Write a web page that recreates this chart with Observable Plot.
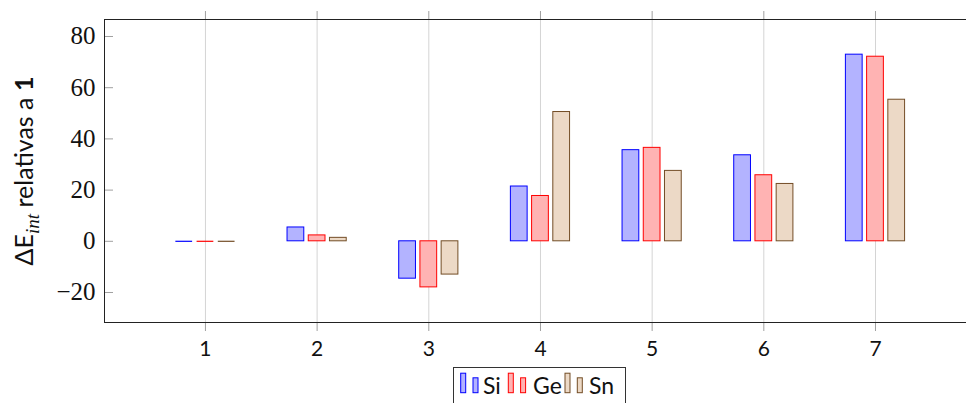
<!DOCTYPE html>
<html><head><meta charset="utf-8">
<script src="https://cdn.jsdelivr.net/npm/d3@7"></script>
<script src="https://cdn.jsdelivr.net/npm/@observablehq/plot@0.6"></script>
<style>
html,body{margin:0;padding:0;background:#fff;}
#wrap{position:relative;width:966px;height:403px;overflow:hidden;background:#fff;}
#wrap svg{display:block;}
#legend{position:absolute;left:453px;top:366.5px;}
#wrap svg text.serif, #wrap svg tspan.serif{font-family:'Liberation Serif', 'DejaVu Serif', serif !important;}
#wrap svg text.sans, #wrap svg tspan.sans{font-family:'Lato' !important;}
</style></head>
<body><div id="wrap"></div>
<script>
const categories = [1, 2, 3, 4, 5, 6, 7];
const seriesNames = ["Si", "Ge", "Sn"];
const siValues = [0, 5.4, -14.6, 21.4, 35.6, 33.6, 72.9];
const geValues = [0, 2.3, -18.0, 17.7, 36.5, 25.8, 72.1];
const snValues = [0, 1.35, -13.0, 50.5, 27.5, 22.4, 55.3];
const yTicks = [-20, 0, 20, 40, 60, 80];
const fills = ["#b3b3ff", "#ffb3b3", "#ecd9c6"];
const strokes = ["#0000ff", "#ff0000", "#734d26"];

const xMin = 0.096, xMax = 7.815, yMin = -31.72, yMax = 86.64;
const off = [-0.19, 0, 0.19], bw = 0.15;
const seriesValues = [siValues, geValues, snValues];
const rows = seriesValues.map((vals, s) => categories.map((c, i) => ({cat: c, value: vals[i], s})));
const fmt = d3.format("d");

const marks = [
  Plot.ruleX(categories, {stroke: "#d4d4d4"}),
  Plot.axisX({ticks: categories, anchor: "top", tickSize: 9, fill: "none", label: null, stroke: "#a0a0a0"}),
  Plot.axisX({ticks: categories, anchor: "bottom", tickSize: 9, fill: "none", label: null, stroke: "#a0a0a0"}),
  Plot.axisY({ticks: yTicks, anchor: "left", tickSize: 9, dx: 9, fill: "none", label: null, stroke: "#a0a0a0"}),
  Plot.text(categories, {x: d => d, frameAnchor: "bottom", lineAnchor: "top", dy: 19,
    text: d => fmt(d), fontFamily: "Lato", fontSize: 21, fill: "#111"}),
  Plot.text(yTicks, {y: d => d, frameAnchor: "left", textAnchor: "end", lineAnchor: "middle", dx: -9,
    text: d => fmt(d), fontFamily: "Liberation Serif", fontSize: 25, fill: "#111"}),
  ...rows.map((r, s) => Plot.rectY(r.filter(d => d.value !== 0), {
    x1: d => d.cat + off[s] - bw / 2, x2: d => d.cat + off[s] + bw / 2,
    y1: 0, y2: "value", fill: fills[s], stroke: strokes[s], strokeWidth: 1
  })),
  ...rows.map((r, s) => Plot.ruleY(r.filter(d => d.value === 0), {
    y: "value", x1: d => d.cat + off[s] - bw / 2, x2: d => d.cat + off[s] + bw / 2,
    stroke: strokes[s], strokeWidth: 1.2
  })),
  Plot.ruleY([yMin, yMax], {stroke: "#222"}),
  Plot.ruleX([xMin], {stroke: "#222"})
];

const chart = Plot.plot({
  width: 966, height: 403,
  marginLeft: 104, marginRight: 0, marginTop: 19, marginBottom: 81,
  x: {domain: [xMin, xMax]},
  y: {domain: [yMin, yMax]},
  style: {background: "white", overflow: "visible"},
  marks
});
document.getElementById("wrap").appendChild(chart);

const svg = d3.select(chart);
svg.selectAll("g[font-family='Liberation Serif'] text").classed("serif", true)
  .attr("font-family", "Liberation Serif");
svg.selectAll("g[font-family='Lato'] text").classed("sans", true);

// y-axis label with subscript
const lab = svg.append("text")
  .attr("transform", "translate(33,171) rotate(-90)")
  .attr("text-anchor", "middle")
  .attr("class", "sans")
  .attr("font-size", 25)
  .style("font-size", "25px")
  .attr("fill", "#111");
lab.append("tspan").text("ΔE");
lab.append("tspan").attr("class", "serif").style("font-style", "italic")
  .attr("font-size", 19).style("font-size", "19px").attr("dy", 6).text("int");
lab.append("tspan").attr("dy", -6).text(" relativas a ");
lab.append("tspan").style("font-weight", "bold").text("1");

// legend
const leg = d3.select("#wrap").append("svg").attr("id", "legend")
  .attr("width", 174).attr("height", 40);
leg.append("rect").attr("x", 0.5).attr("y", 0.5).attr("width", 172).attr("height", 60)
  .attr("fill", "white").attr("stroke", "#333");
const iconX = [7.7, 55.3, 112];
const textX = [30, 80, 136];
seriesNames.forEach((name, s) => {
  leg.append("rect").attr("x", iconX[s]).attr("y", 6.2).attr("width", 5).attr("height", 19.5)
    .attr("fill", fills[s]).attr("stroke", strokes[s]);
  leg.append("rect").attr("x", iconX[s] + 12.3).attr("y", 10.8).attr("width", 5).attr("height", 14.9)
    .attr("fill", fills[s]).attr("stroke", strokes[s]);
  leg.append("text").attr("x", textX[s]).attr("y", 26.5)
    .style("font-family", "Lato").style("font-size", "23px")
    .attr("fill", "#111").text(name);
});
</script>
</body></html>
